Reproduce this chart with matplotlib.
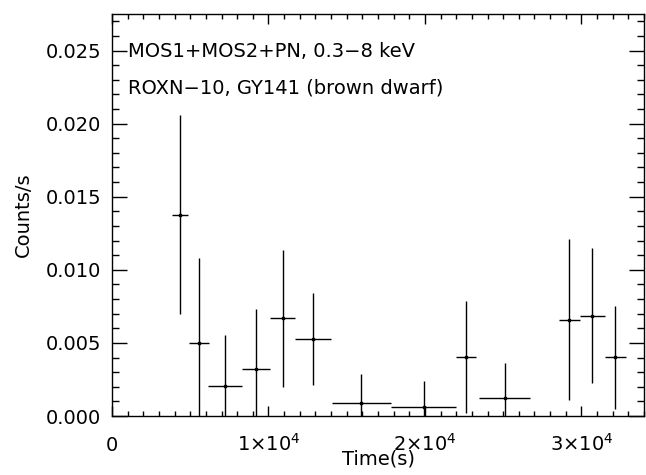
import numpy as np
import matplotlib
matplotlib.use("Agg")
import matplotlib.pyplot as plt
from matplotlib.ticker import FixedLocator, MultipleLocator, FuncFormatter

plt.rcParams['mathtext.default'] = 'regular'

# binned light curve (time in s, rate in counts/s)
time = [4340, 5534, 7232, 9191, 10915, 12849, 15939, 19915, 22641, 25085, 29234, 30683, 32150]
time_half = [520, 640, 1075, 900, 800, 1170, 1880, 2080, 640, 1650, 660, 800, 670]
rate = [0.01377, 0.00497, 0.00208, 0.00324, 0.00667, 0.00527, 0.00091, 0.00064,
        0.00406, 0.00125, 0.00658, 0.00685, 0.00402]
rate_err = [0.00680, 0.00585, 0.00347, 0.00407, 0.00470, 0.00314, 0.00197, 0.00176,
            0.00384, 0.00240, 0.00550, 0.00462, 0.00353]

line1 = "MOS1+MOS2+PN, 0.3\u22128 keV"
line2 = "ROXN\u221210, GY141 (brown dwarf)"

fig = plt.figure(figsize=(6.46, 4.75), dpi=100)
ax = fig.add_axes([112/646, 59/475, 532/646, 402/475])

ax.errorbar(time, rate, xerr=time_half, yerr=rate_err, fmt='none',
            ecolor='black', elinewidth=1.0, capsize=0)
ax.plot(time, rate, 's', color='black', markersize=1.5, linestyle='none')

ax.set_xlim(0, 34000)
ax.set_ylim(0, 0.0275)

ax.xaxis.set_major_locator(FixedLocator([0, 10000, 20000, 30000]))
ax.xaxis.set_minor_locator(MultipleLocator(1000))
ax.yaxis.set_major_locator(MultipleLocator(0.005))
ax.yaxis.set_minor_locator(MultipleLocator(0.001))


def xfmt(v, pos):
    if v == 0:
        return "0"
    return r"$%d{\times}10^{4}$" % int(round(v / 1e4))


ax.xaxis.set_major_formatter(FuncFormatter(xfmt))
ax.yaxis.set_major_formatter(FuncFormatter(lambda v, p: "%.3f" % v))

ax.tick_params(which='both', direction='in', top=True, right=True,
               labelsize=14, width=1, colors='black')
ax.tick_params(axis='x', which='major', length=7)
ax.tick_params(axis='x', which='minor', length=3.5)
ax.tick_params(axis='y', which='major', length=11)
ax.tick_params(axis='y', which='minor', length=5)
ax.tick_params(axis='y', which='major', pad=8)
for lbl in ax.get_xticklabels():
    lbl.set_verticalalignment('baseline')
ax.tick_params(axis='x', which='major', pad=25)

for s in ax.spines.values():
    s.set_linewidth(1)

ax.set_xlabel("Time(s)", fontsize=14)
ax.set_ylabel("Counts/s", fontsize=14)
ax.xaxis.set_label_coords(0.5, -0.083)
ax.yaxis.set_label_coords(-0.148, 0.5)

ax.text(0.030, 0.893, line1, transform=ax.transAxes, fontsize=14, va='baseline')
ax.text(0.030, 0.801, line2, transform=ax.transAxes, fontsize=14, va='baseline')

fig.savefig("out.png", dpi=100)
